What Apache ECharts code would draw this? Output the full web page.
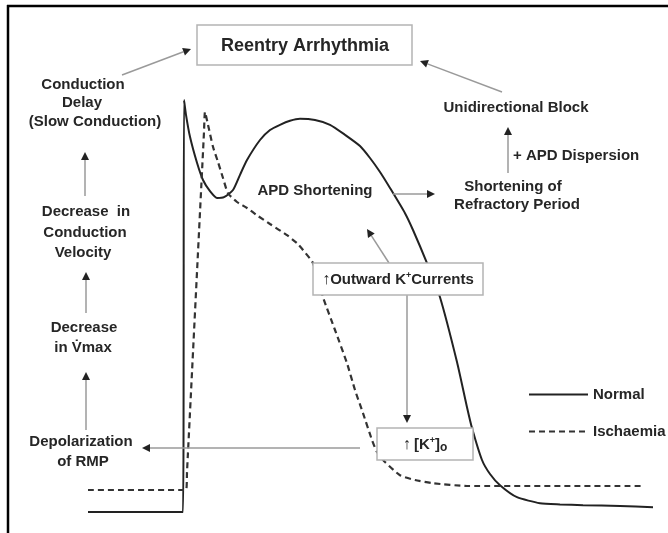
<!DOCTYPE html>
<html><head><meta charset="utf-8">
<script src="https://cdn.jsdelivr.net/npm/echarts@6.0.0/dist/echarts.min.js"></script>
<style>html,body{margin:0;padding:0;background:#fff}#c{width:668px;height:533px}</style>
</head><body><div id="c"></div>
<script>
// ---- data: time (ms) vs membrane potential (mV) ----
const seriesNames = ['Normal', 'Ischaemia'];
const normalAP = [[-95,-83],[0,-83],[1,20],[3,16.3],[7,10.8],[14,4.3],[20,0],[27,-2.8],[34,-4.5],[41,-4.3],[50,-2.5],[57,1.3],[64,5],[77,10],[87,12.5],[97,13.8],[107,14.8],[117,15.3],[132,15],[147,13.8],[162,11.3],[177,8.5],[187,5.5],[197,2],[207,-2],[222,-8.3],[230,-12.5],[244,-20.8],[257,-29.3],[274,-45.5],[284,-56.8],[289,-62],[299,-70],[307,-73.5],[317,-76.3],[334,-79.3],[357,-80.8],[377,-81.1],[400,-81.3],[437,-81.5],[470,-81.8]];
const ischaemiaAP = [[-95,-77.5],[3,-77.5],[4,-73],[21,12],[22,17],[25,13.8],[30,8.3],[35,4.5],[40,0.5],[45,-3.3],[54,-5.5],[64,-7],[75,-9],[87,-11],[104,-13.8],[114,-15.8],[120,-17.5],[130,-20.8],[140,-29.3],[152,-37.5],[164,-45.8],[172,-52.5],[180,-58.3],[189,-65],[194,-68],[202,-70.5],[217,-73.8],[232,-75],[250,-75.8],[284,-76.5],[460,-76.5]];
const titleText = 'Reentry Arrhythmia';
const leftLines = ['Conduction','Delay','(Slow Conduction)','Decrease  in','Conduction','Velocity','Decrease','in V\u0307max','Depolarization','of RMP'];
const rightLines = ['APD Shortening','Shortening of','Refractory Period','+ APD Dispersion','Unidirectional Block'];

// ---- layout (pixels) ----
const FONT = '"Liberation Sans", Arial, Helvetica, sans-serif';
const TXT = '#262626';
const leftPos = [[83,85],[82,103],[95,122],[86,212],[85,233],[83,253],[84,328],[83,348],[81,442],[83,462]];
const rightPos = [[315,191,'center'],[513,187,'center'],[517,205,'center'],[513,156,'left'],[516,108,'center']];
const arrows = [[122,75,191,49],[502,92,420,61],[85,196,85,152],[86,313,86,272],[86,430,86,372],[360,448,142,448],[393,194,435,194],[508,173,508,127],[389,263,367,229],[407,295,407,423]];

const g = [];
// frame
g.push({type:'line', z:10, shape:{x1:7,y1:6,x2:668,y2:6}, style:{stroke:'#000',lineWidth:2.5}});
g.push({type:'line', z:10, shape:{x1:8,y1:5,x2:8,y2:533}, style:{stroke:'#000',lineWidth:2.5}});
// boxes
function box(x,y,w,h){ g.push({type:'rect', z:10, shape:{x:x,y:y,width:w,height:h}, style:{fill:'#fff',stroke:'#b4b4b4',lineWidth:1.5}}); }
box(197,25,215,40); box(313,263,170,32); box(377,428,96,32);
function txt(t,x,y,align,size){ g.push({type:'text', z:11, x:x, y:y, style:{text:t, font:'bold '+(size||15)+'px '+FONT, fill:TXT, align:align||'center', verticalAlign:'middle'}}); }
txt(titleText,305,46,'center',18);
leftLines.forEach((t,i)=>txt(t,leftPos[i][0],leftPos[i][1]));
rightLines.forEach((t,i)=>txt(t,rightPos[i][0],rightPos[i][1],rightPos[i][2]));
// rich texts
g.push({type:'text', z:11, x:398, y:280, style:{text:'{a|\u2191}{t|Outward K}{s|+}{t|Currents}', align:'center', verticalAlign:'middle',
  rich:{a:{font:'bold 16px '+FONT, fill:TXT}, t:{font:'bold 15px '+FONT, fill:TXT}, s:{font:'bold 9px '+FONT, fill:TXT, padding:[0,0,8,0]}}}});
g.push({type:'text', z:11, x:425, y:445, style:{text:'{a|\u2191} {t|[K}{s|+}{t|]}{o|o}', align:'center', verticalAlign:'middle',
  rich:{a:{font:'bold 16px '+FONT, fill:TXT}, t:{font:'bold 15px '+FONT, fill:TXT}, s:{font:'bold 9px '+FONT, fill:TXT, padding:[0,0,8,0]}, o:{font:'bold 12px '+FONT, fill:TXT, padding:[6,0,0,0]}}}});
// arrows
arrows.forEach(a=>{
  const dx=a[2]-a[0], dy=a[3]-a[1], L=Math.hypot(dx,dy), ux=dx/L, uy=dy/L, hl=8, hw=4;
  const bx=a[2]-ux*hl, by=a[3]-uy*hl;
  g.push({type:'line', z:9, shape:{x1:a[0],y1:a[1],x2:bx,y2:by}, style:{stroke:'#9a9a9a',lineWidth:1.5}});
  g.push({type:'polygon', z:9, shape:{points:[[a[2],a[3]],[bx-uy*hw,by+ux*hw],[bx+uy*hw,by-ux*hw]]}, style:{fill:'#222'}});
});

const chart = echarts.init(document.getElementById('c'), null, {renderer:'canvas'});
chart.setOption({
  animation:false,
  backgroundColor:'#fff',
  grid:{left:88, right:15, top:60, bottom:1},
  xAxis:{type:'value', min:-95, max:470, show:false},
  yAxis:{type:'value', min:-88, max:30, show:false},
  legend:{orient:'vertical', left:523, top:382, itemWidth:59, itemHeight:14, itemGap:22,
    itemStyle:{opacity:0},
    textStyle:{fontFamily:FONT, fontWeight:'bold', fontSize:15, color:TXT},
    data:seriesNames},
  series:[
    {name:seriesNames[0], type:'line', data:normalAP, symbol:'none', smooth:0.2, z:3, lineStyle:{color:'#222', width:2}, itemStyle:{color:'#222'}},
    {name:seriesNames[1], type:'line', data:ischaemiaAP, symbol:'none', smooth:0.2, z:3, lineStyle:{color:'#333', width:2.2, type:[6,4]}, itemStyle:{color:'#333'}}
  ],
  graphic:g
});
</script></body></html>
